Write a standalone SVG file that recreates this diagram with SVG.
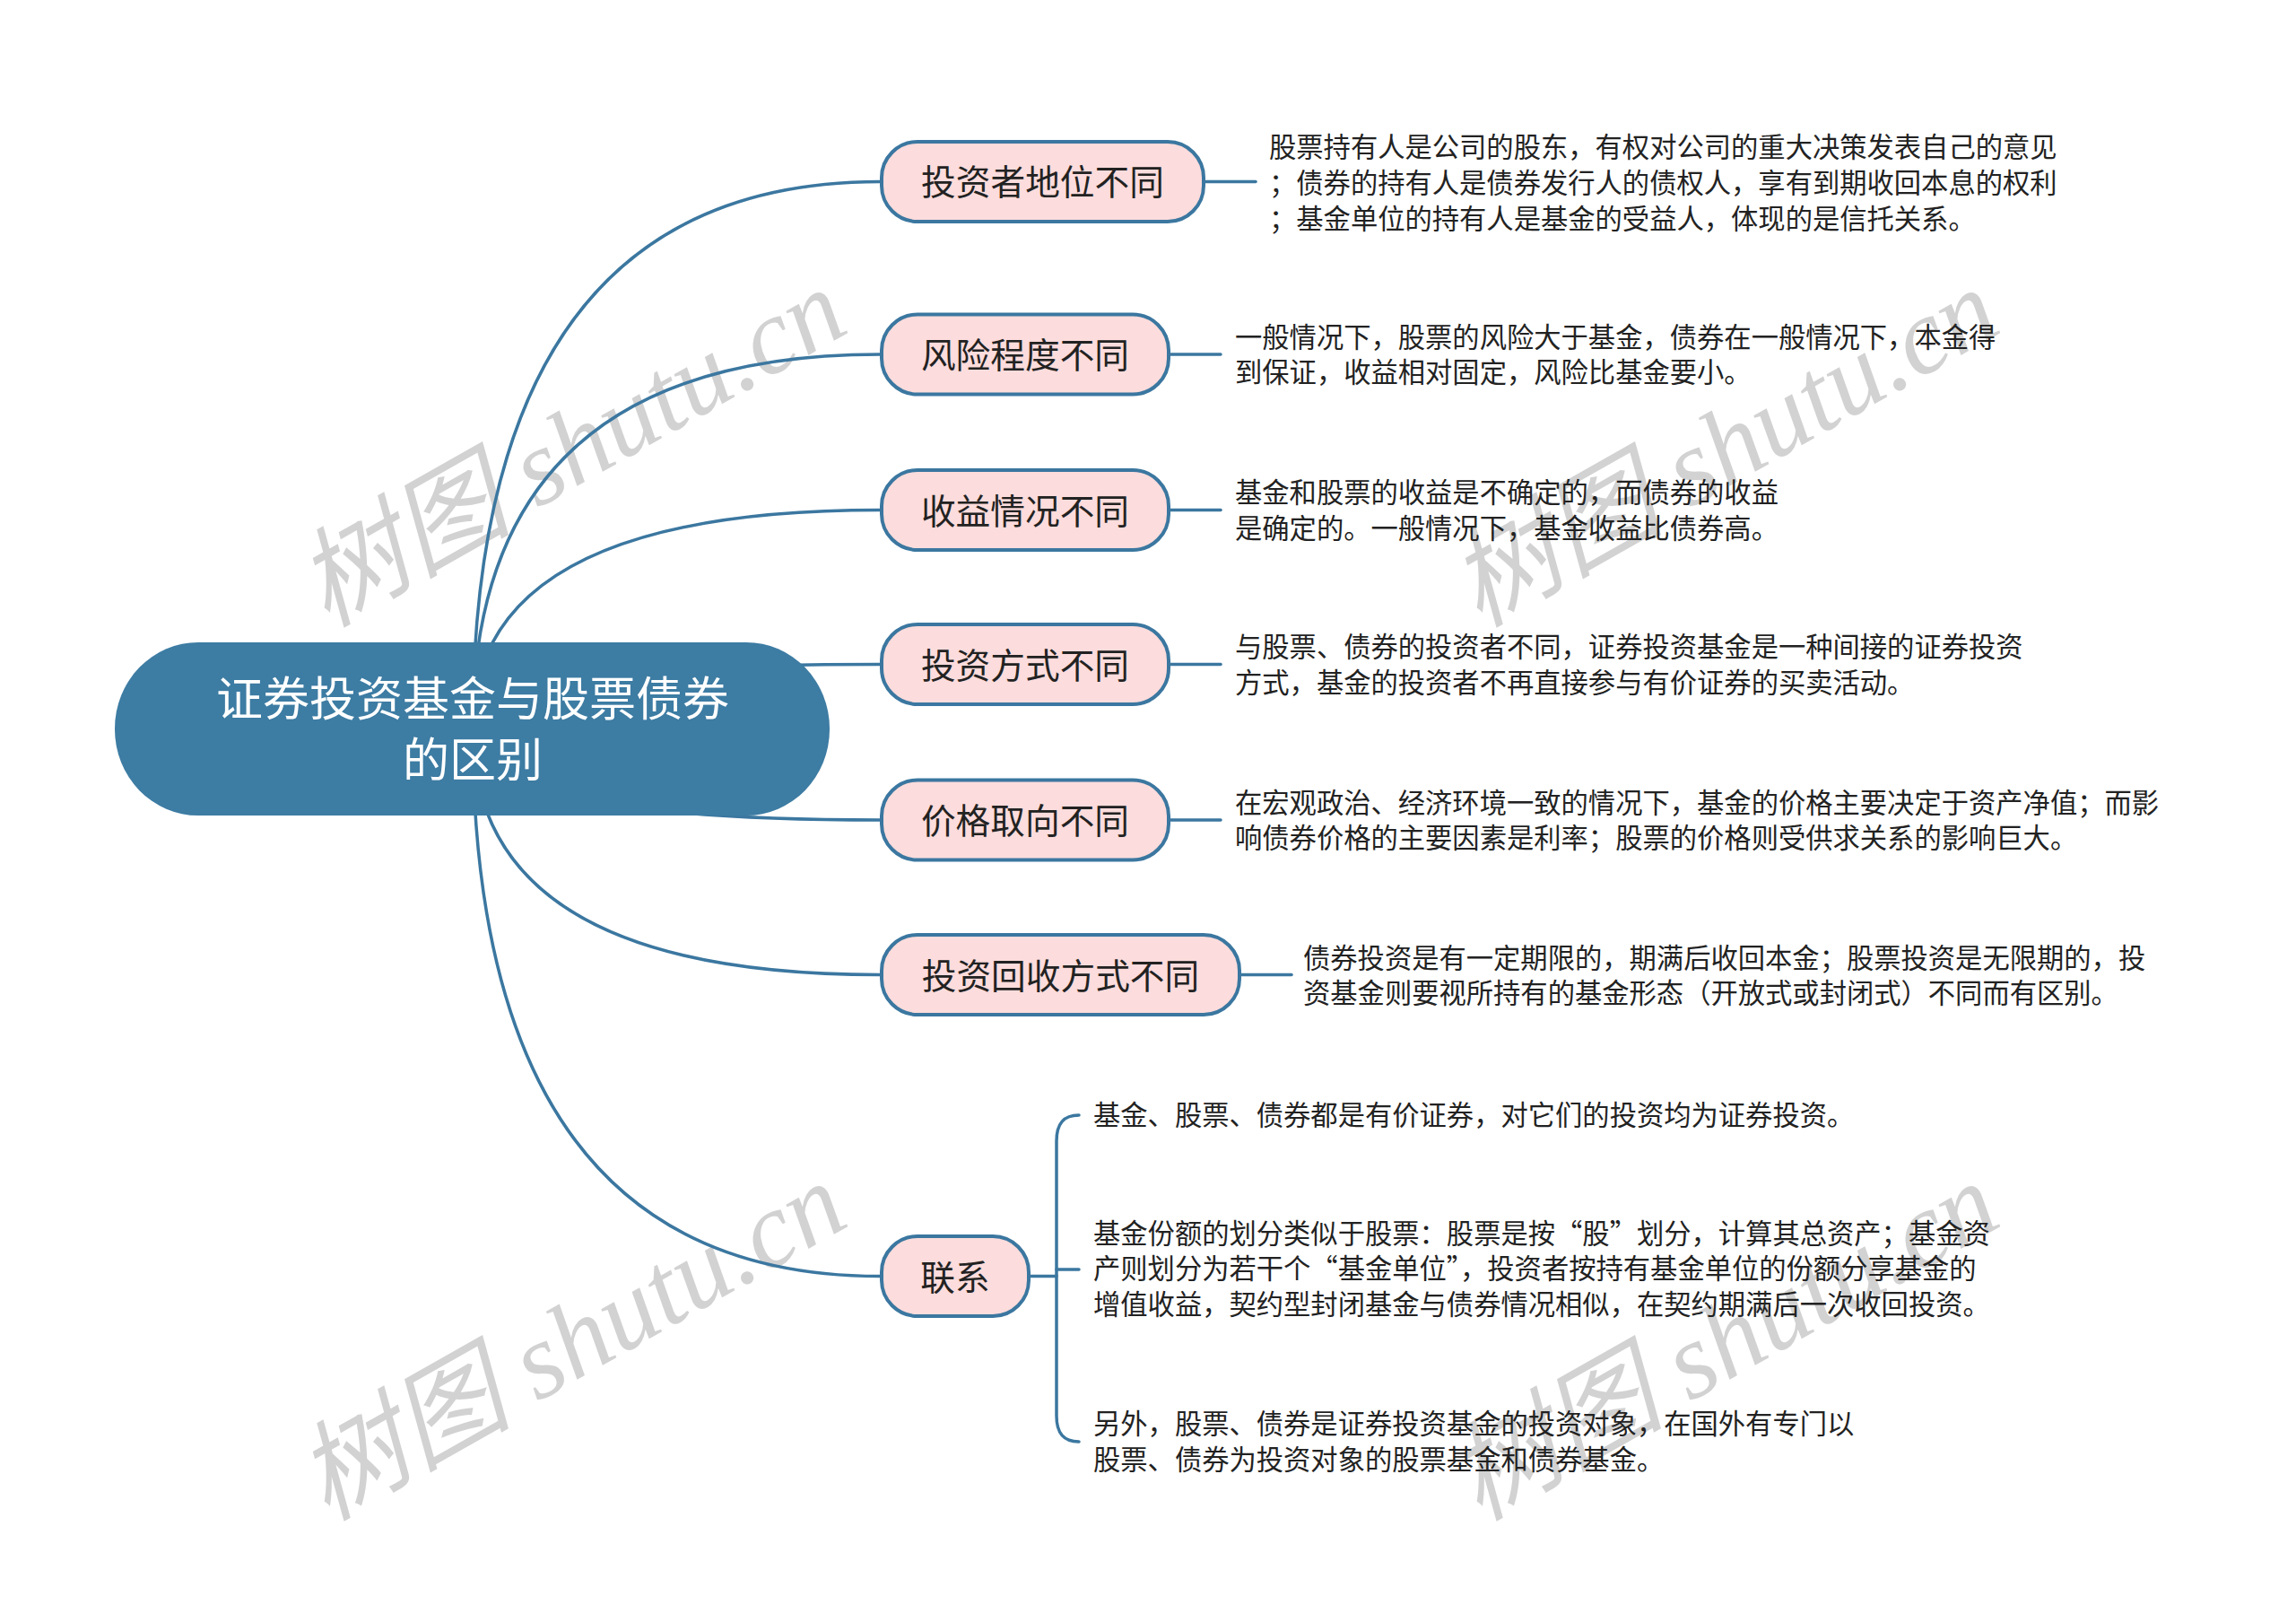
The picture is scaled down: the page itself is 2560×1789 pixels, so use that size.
<svg xmlns="http://www.w3.org/2000/svg" width="2560" height="1789" viewBox="0 0 2560 1789">
<style>
.wm{font-family:"Liberation Serif","Noto Sans CJK SC",serif;font-style:italic;font-size:120px;fill:#d2d2d2}
.conn{fill:none;stroke:#3b77a0;stroke-width:3.5;stroke-linecap:round}
.root{fill:#3d7ca3}
.roott{font-family:"Noto Sans CJK SC","Microsoft YaHei",sans-serif;font-size:52px;fill:#ffffff;text-anchor:middle}
.node{fill:#fcdcdc;stroke:#3b77a0;stroke-width:4}
.nodet{font-family:"Noto Sans CJK SC",sans-serif;font-size:38.7px;fill:#222222;text-anchor:middle}
.desc{font-family:"Noto Sans CJK SC",sans-serif;font-size:30.3px;fill:#222222}
</style>
<rect width="2560" height="1789" fill="#ffffff"/>
<g id="watermarks">
<text class="wm" transform="translate(364,700) rotate(-29.5)">树图 shutu.cn</text>
<text class="wm" transform="translate(1649,700) rotate(-29.5)">树图 shutu.cn</text>
<text class="wm" transform="translate(364,1696) rotate(-29.5)">树图 shutu.cn</text>
<text class="wm" transform="translate(1649,1696) rotate(-29.5)">树图 shutu.cn</text>
</g>
<g id="connectors">
<path class="conn" d="M527,812 Q527,202.5 981,202.5"/>
<path class="conn" d="M527,812 Q527,395 981,395"/>
<path class="conn" d="M527,812 Q527,568.5 981,568.5"/>
<path class="conn" d="M527,812 Q527,740.5 981,740.5"/>
<path class="conn" d="M527,812 Q527,914 981,914"/>
<path class="conn" d="M527,812 Q527,1086.5 981,1086.5"/>
<path class="conn" d="M527,812 Q527,1422.5 981,1422.5"/>
<path class="conn" d="M1344,202.5 H1400"/>
<path class="conn" d="M1305,395 H1361"/>
<path class="conn" d="M1305,568.5 H1361"/>
<path class="conn" d="M1304,740.5 H1361"/>
<path class="conn" d="M1305,914 H1361"/>
<path class="conn" d="M1384,1086.5 H1440"/>
<path class="conn" d="M1149,1422.5 H1178"/>
<path class="conn" d="M1203,1243 C1186,1243 1178,1252 1178,1272 V1578 C1178,1598 1186,1607 1203,1607"/>
<path class="conn" d="M1178,1415 H1203"/>
</g>
<g id="root">
<rect class="root" x="128" y="716" width="797" height="193" rx="93" ry="96"/>
<text class="roott" x="527" y="798">证券投资基金与股票债券</text>
<text class="roott" x="527" y="866">的区别</text>
</g>
<g id="n1">
<rect class="node" x="983" y="158" width="359" height="89" rx="40"/>
<text class="nodet" x="1162.5" y="217">投资者地位不同</text>
</g>
<g id="n2">
<rect class="node" x="983" y="350.5" width="320" height="89" rx="40"/>
<text class="nodet" x="1143" y="410">风险程度不同</text>
</g>
<g id="n3">
<rect class="node" x="983" y="524" width="320" height="89" rx="40"/>
<text class="nodet" x="1143" y="583.5">收益情况不同</text>
</g>
<g id="n4">
<rect class="node" x="983" y="696" width="320" height="89" rx="40"/>
<text class="nodet" x="1143" y="755.5">投资方式不同</text>
</g>
<g id="n5">
<rect class="node" x="983" y="869.5" width="320" height="89" rx="40"/>
<text class="nodet" x="1143" y="929">价格取向不同</text>
</g>
<g id="n6">
<rect class="node" x="983" y="1042" width="399" height="89" rx="40"/>
<text class="nodet" x="1182.5" y="1101.5">投资回收方式不同</text>
</g>
<g id="n7">
<rect class="node" x="983" y="1378" width="164" height="89" rx="40"/>
<text class="nodet" x="1065" y="1437.5">联系</text>
</g>
<g id="d1">
<text class="desc" x="1415" y="175">股票持有人是公司的股东，有权对公司的重大决策发表自己的意见</text>
<text class="desc" x="1415" y="215">；债券的持有人是债券发行人的债权人，享有到期收回本息的权利</text>
<text class="desc" x="1415" y="255">；基金单位的持有人是基金的受益人，体现的是信托关系。</text>
</g>
<g id="d2">
<text class="desc" x="1377" y="387">一般情况下，股票的风险大于基金，债券在一般情况下，本金得</text>
<text class="desc" x="1377" y="426">到保证，收益相对固定，风险比基金要小。</text>
</g>
<g id="d3">
<text class="desc" x="1377" y="560">基金和股票的收益是不确定的，而债券的收益</text>
<text class="desc" x="1377" y="600">是确定的。一般情况下，基金收益比债券高。</text>
</g>
<g id="d4">
<text class="desc" x="1377" y="732">与股票、债券的投资者不同，证券投资基金是一种间接的证券投资</text>
<text class="desc" x="1377" y="772">方式，基金的投资者不再直接参与有价证券的买卖活动。</text>
</g>
<g id="d5">
<text class="desc" x="1377" y="906">在宏观政治、经济环境一致的情况下，基金的价格主要决定于资产净值；而影</text>
<text class="desc" x="1377" y="945">响债券价格的主要因素是利率；股票的价格则受供求关系的影响巨大。</text>
</g>
<g id="d6">
<text class="desc" x="1453" y="1079">债券投资是有一定期限的，期满后收回本金；股票投资是无限期的，投</text>
<text class="desc" x="1453" y="1118">资基金则要视所持有的基金形态（开放式或封闭式）不同而有区别。</text>
</g>
<g id="d7">
<text class="desc" x="1219" y="1254">基金、股票、债券都是有价证券，对它们的投资均为证券投资。</text>
</g>
<g id="d8">
<text class="desc" x="1219" y="1386">基金份额的划分类似于股票：股票是按“股”划分，计算其总资产；基金资</text>
<text class="desc" x="1219" y="1425">产则划分为若干个“基金单位”，投资者按持有基金单位的份额分享基金的</text>
<text class="desc" x="1219" y="1465">增值收益，契约型封闭基金与债券情况相似，在契约期满后一次收回投资。</text>
</g>
<g id="d9">
<text class="desc" x="1219" y="1598">另外，股票、债券是证券投资基金的投资对象，在国外有专门以</text>
<text class="desc" x="1219" y="1638">股票、债券为投资对象的股票基金和债券基金。</text>
</g>
</svg>
